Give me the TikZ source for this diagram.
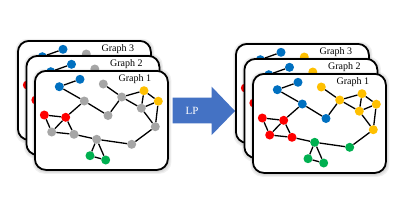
\documentclass[tikz,border=0pt]{standalone}
\usepackage{fontspec}
\setmainfont{Liberation Serif}
\usetikzlibrary{calc}
\definecolor{cblue}{HTML}{0070C0}
\definecolor{cred}{HTML}{FF0000}
\definecolor{cyellow}{HTML}{FFC000}
\definecolor{cgreen}{HTML}{00B050}
\definecolor{cgray}{HTML}{A6A6A6}
\definecolor{arrowblue}{HTML}{4472C4}
\tikzset{
  vert/.style={circle, inner sep=0pt, minimum size=9pt},
  edge/.style={line width=1.3pt, black},
  cardbox/.style={draw=black, line width=1.8pt, fill=white, rounded corners=11pt,
    minimum width=133pt, minimum height=99pt, anchor=north west, inner sep=0pt},
  shadowbox/.style={fill=black, opacity=0.06, rounded corners=12pt,
    minimum width=133pt, minimum height=99pt, anchor=north west, inner sep=0pt},
  glabel/.style={font=\fontsize{10}{12}\selectfont, inner sep=0pt},
}
\newcommand\drawgraph[1]{%
  \foreach \n/\x/\y/\c in {a/59.3/86.7/cblue, b/80/79.3/cblue, c/103.3/84/vc,
    d/84.3/101/vd, e/121.7/97/ve, f/144/90.7/cyellow, g/158.3/101.2/cyellow,
    h/141.3/108.2/vh, i/108/115.5/vi, j/44.3/115/cred, k/65.7/117.3/cred,
    l/51.7/132/vl, m/74/134.3/vm, n/155.3/126.7/vn, o/96.7/139.3/vo,
    p/131.7/144.3/vp, q/90/155.7/cgreen, r/105.7/160/cgreen}
    \node[vert, fill=\c] (#1\n) at (\x,\y) {};
  \foreach \u/\v in {a/b, a/d, d/k, d/i, i/e, e/c, e/f, e/h, f/g, f/h, h/g, h/n,
    g/n, n/p, p/o, o/m, o/q, o/r, q/r, m/k, m/l, l/j, l/k, j/k}
    \draw[edge] (#1\u) -- (#1\v);
}
\newcommand\drawcard[4]{%
  \foreach \s/\g in {-1/-3, 0/-2, 1/-1, 2/0, 3/0.5}
    \node[shadowbox, minimum width={133pt-2*\g pt}, minimum height={99pt-2*\g pt}]
      at ({#2+\g+1.2},{#3+\g+1.6}) {};
  \node[cardbox] (#1) at (#2,#3) {};
  \node[glabel] (#1lab) at ($(#1.north east)+(-34,9)$) {#4};
  \begin{scope}[shift={({#2-34},{#3-70})}]
    \drawgraph{#1}
  \end{scope}
}
\begin{document}
\begin{tikzpicture}[x=1pt,y=-1pt]
\useasboundingbox (0,0) rectangle (400,210);
% left stack
\begin{scope}
  \colorlet{vc}{cgray}\colorlet{vd}{cgray}\colorlet{ve}{cgray}\colorlet{vh}{cgray}
  \colorlet{vi}{cgray}\colorlet{vl}{cgray}\colorlet{vm}{cgray}\colorlet{vn}{cgray}
  \colorlet{vo}{cgray}\colorlet{vp}{cgray}
  \drawcard{L3}{17}{40}{Graph 3}
  \drawcard{L2}{25.5}{55}{Graph 2}
  \drawcard{L1}{34}{70}{Graph 1}
\end{scope}
% arrow
\fill[arrowblue] (172.7,97.7) -- (211.7,97.7) -- (211.7,86.7) -- (235,111)
  -- (211.7,135) -- (211.7,123.3) -- (172.7,123.3) -- cycle;
\node[text=white, font=\fontsize{11}{12}\selectfont, inner sep=0pt] (lp) at (192,110.5) {LP};
% right stack
\begin{scope}
  \colorlet{vc}{cyellow}\colorlet{vd}{cblue}\colorlet{ve}{cyellow}\colorlet{vh}{cyellow}
  \colorlet{vi}{cblue}\colorlet{vl}{cred}\colorlet{vm}{cred}\colorlet{vn}{cyellow}
  \colorlet{vo}{cgreen}\colorlet{vp}{cgreen}
  \drawcard{R3}{235}{43}{Graph 3}
  \drawcard{R2}{243.5}{58}{Graph 2}
  \drawcard{R1}{252}{73}{Graph 1}
\end{scope}
\end{tikzpicture}
\end{document}
